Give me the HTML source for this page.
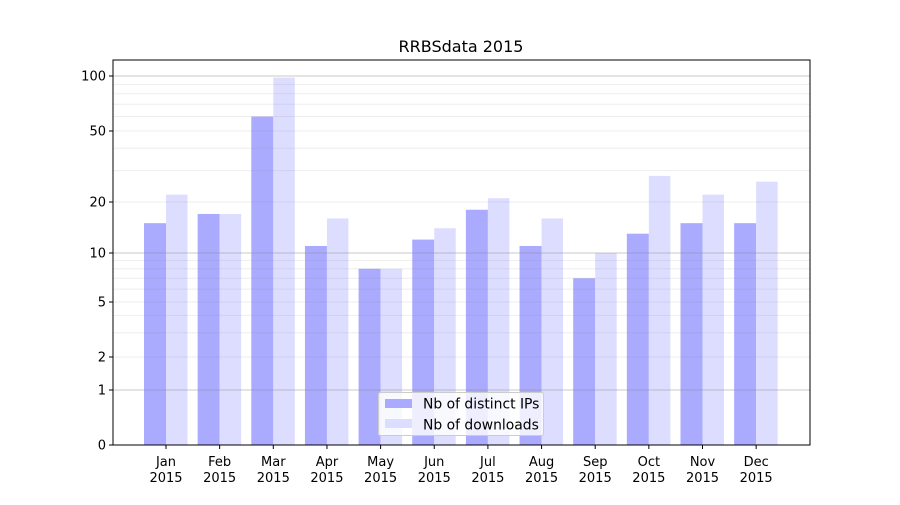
<!DOCTYPE html>
<html><head><meta charset="utf-8"><style>body{margin:0;background:#fff}</style></head><body>
<svg id="s" width="900" height="500" xmlns="http://www.w3.org/2000/svg" font-family="DejaVu Sans, Liberation Sans, sans-serif"></svg>
<script>
const s=document.getElementById('s');let h='';
const L=113,R=810,T=60,B=445;
const knots=[[0,390],[Math.log10(2),357],[Math.log10(5),302],[1,253],[Math.log10(20),202],[Math.log10(50),131],[2,76]];
function Y(v){if(v<=1)return 445-55*v;const l=Math.log10(v);for(let i=0;i<knots.length-1;i++){const a=knots[i],b=knots[i+1];if(l<=b[0]||i==knots.length-2)return a[1]+(l-a[0])/(b[0]-a[0])*(b[1]-a[1]);}}
const m=['Jan','Feb','Mar','Apr','May','Jun','Jul','Aug','Sep','Oct','Nov','Dec'];
const d1=[15,17,60,11,8,12,18,11,7,13,15,15],d2=[22,17,98,16,8,14,21,16,10,28,22,26];
for(let i=0;i<12;i++){const c=166+i*53.65;
h+=`<rect x="${c-22}" y="${Y(d1[i])}" width="22" height="${B-Y(d1[i])}" fill="#aaaaff"/>`;
h+=`<rect x="${c}" y="${Y(d2[i])}" width="21.5" height="${B-Y(d2[i])}" fill="#ddddff"/>`;
h+=`<line x1="${c}" x2="${c}" y1="${B}" y2="${B+4}" stroke="#000"/>`;
h+=`<text x="${c}" y="466" font-size="13" text-anchor="middle">${m[i]}</text><text x="${c}" y="482" font-size="13" text-anchor="middle">2015</text>`;}
const minor=[3,4,6,7,8,9,20,30,40,50,60,70,80,90,2,5];
for(const v of minor)h+=`<line x1="${L}" x2="${R}" y1="${Y(v).toFixed(1)}" y2="${Y(v).toFixed(1)}" stroke="#888" stroke-opacity="0.15"/>`;
for(const v of [1,10,100])h+=`<line x1="${L}" x2="${R}" y1="${Y(v)}" y2="${Y(v)}" stroke="#888" stroke-opacity="0.45"/>`;
for(const v of [0,1,2,5,10,20,50,100]){const y=Y(v);h+=`<line x1="${L-4}" x2="${L}" y1="${y}" y2="${y}" stroke="#000"/><text x="${L-7}" y="${y+4.5}" font-size="13" text-anchor="end">${v}</text>`;}
h+=`<rect x="${L}" y="${T}" width="${R-L}" height="${B-T}" fill="none" stroke="#000"/>`;
h+=`<text x="461" y="52" font-size="16" text-anchor="middle">RRBSdata 2015</text>`;
h+=`<rect x="378.5" y="392.5" width="165" height="43" fill="#fff" fill-opacity="0.8" stroke="#ccc" rx="2"/>`;
h+=`<rect x="385" y="399" width="27" height="9" fill="#aaaaff"/><text x="423" y="408.5" font-size="13.9">Nb of distinct IPs</text>`;
h+=`<rect x="385" y="419" width="27" height="9" fill="#ddddff"/><text x="423" y="429.5" font-size="13.9">Nb of downloads</text>`;
s.innerHTML=h;
</script>
</body></html>
